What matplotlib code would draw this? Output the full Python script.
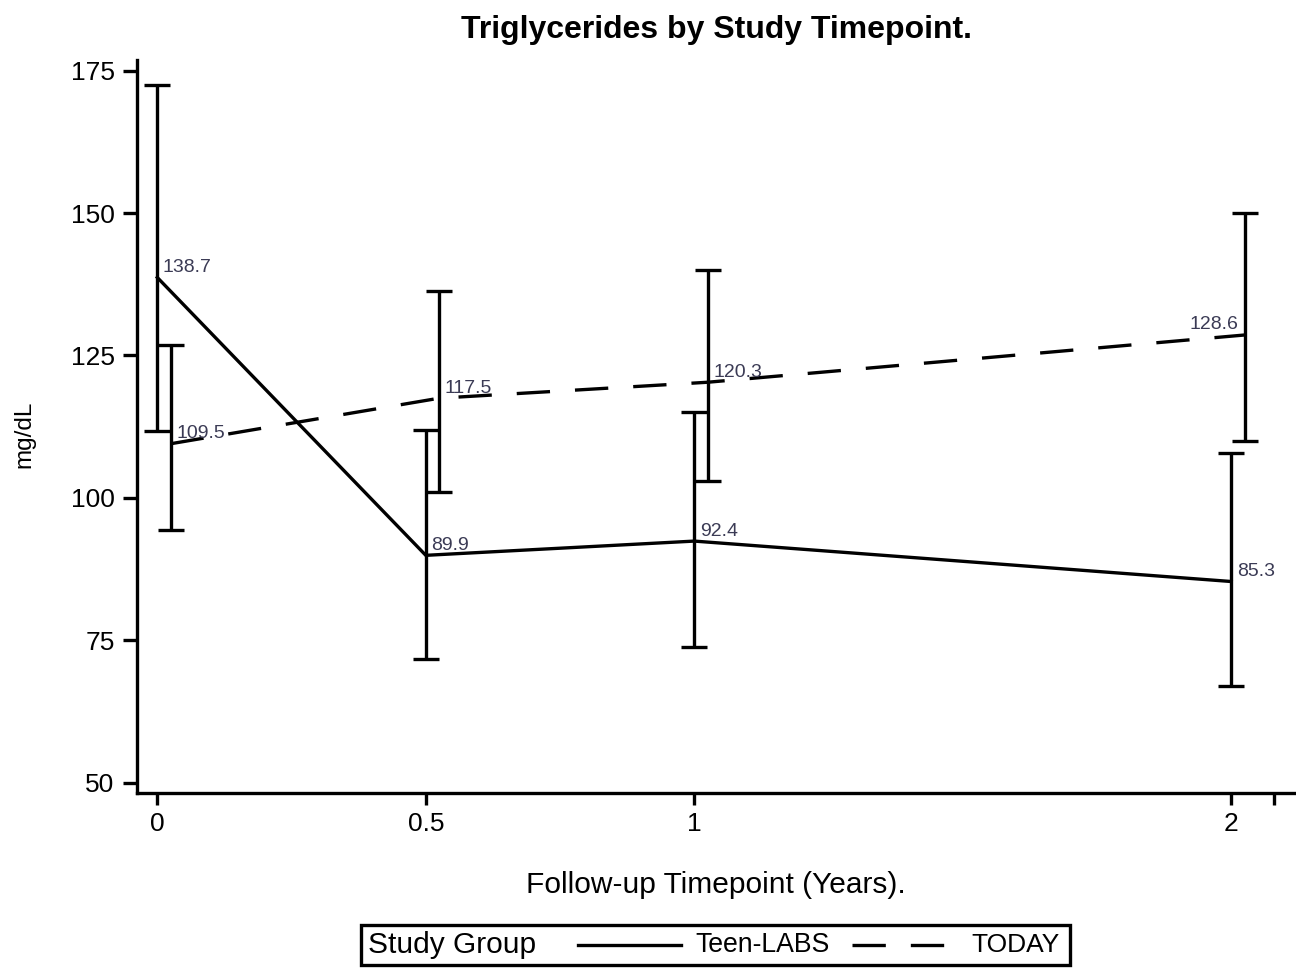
import numpy as np
import matplotlib.pyplot as plt
from matplotlib.lines import Line2D
from matplotlib.offsetbox import AnchoredOffsetbox, HPacker, TextArea, DrawingArea

plt.rcParams['font.family'] = ['Liberation Sans', 'DejaVu Sans']

# follow-up timepoints (years) and group summaries (mg/dL)
timepoints = [0, 0.5, 1, 2]
x_ticks = [0, 0.5, 1, 2, 2.08]
x_ticklabels = ['0', '0.5', '1', '2', '']
y_ticks = [50, 75, 100, 125, 150, 175]

teen_mean = [138.7, 89.9, 92.4, 85.3]
teen_lo = [111.7, 71.7, 73.8, 67.0]
teen_hi = [172.5, 111.9, 115.1, 107.9]

today_mean = [109.5, 117.5, 120.3, 128.6]
today_lo = [94.4, 101.0, 102.9, 110.0]
today_hi = [126.8, 136.3, 140.1, 150.1]

groups = ['Teen-LABS', 'TODAY']

lw = 2.4
dashed = (0, (10, 7.5))
label_color = '#3b3b55'

fig = plt.figure(figsize=(12.96, 9.69), dpi=100)
ax = fig.add_axes([0.1055, 0.1813, 0.8945, 0.7568])

series = [
    (teen_mean, teen_lo, teen_hi, 0.0, '-'),
    (today_mean, today_lo, today_hi, 0.025, dashed),
]
for i, (mean, lo, hi, shift, ls) in enumerate(series):
    x = np.array(timepoints) + shift
    mean = np.array(mean)
    yerr = [mean - np.array(lo), np.array(hi) - mean]
    ax.plot(x, mean, color='black', lw=lw, linestyle=ls)
    ax.errorbar(x, mean, yerr=yerr, fmt='none', ecolor='black',
                elinewidth=lw, capsize=9.6, capthick=lw)
    for j, (xi, yi) in enumerate(zip(x, mean)):
        # last TODAY label sits on the left of its point
        left = (i == 1 and j == len(x) - 1)
        ax.annotate(f'{yi:.1f}', (xi, yi), xytext=(-4.5 if left else 4, 4),
                    textcoords='offset points', ha='right' if left else 'left',
                    va='baseline', fontsize=14, color=label_color)

ax.set_xlim(-0.0383, 2.1205)
ax.set_ylim(48.1, 176.9)
ax.set_xticks(x_ticks, x_ticklabels)
ax.set_yticks(y_ticks)
for s in ['top', 'right']:
    ax.spines[s].set_visible(False)
for s in ['left', 'bottom']:
    ax.spines[s].set_linewidth(lw)
ax.tick_params(axis='both', direction='out', width=lw, labelsize=19, colors='black')
ax.tick_params(axis='y', length=10, pad=6)
ax.tick_params(axis='x', length=8.5, pad=5)

ax.set_title('Triglycerides by Study Timepoint.', fontsize=23, fontweight='bold', pad=16)
ax.set_xlabel('Follow-up Timepoint (Years).', fontsize=21.5, labelpad=25)
ax.set_ylabel('mg/dL', fontsize=17.5, labelpad=23)
ax.yaxis.set_label_coords(-0.087, 0.49)


# legend row: "Study Group" followed by line samples
def sample(ls, width, x0, length):
    da = DrawingArea(width, 14, 0, 0)
    da.add_artist(Line2D([x0, x0 + length], [7, 7], color='black', lw=lw, linestyle=ls))
    return da


row = HPacker(children=[
    DrawingArea(0.8, 1, 0, 0),
    TextArea('Study Group', textprops=dict(fontsize=21.5)),
    sample('-', 114.5, 30.2, 74.2),
    TextArea(groups[0], textprops=dict(fontsize=19.2)),
    sample(dashed, 102.2, 16.6, 67.7),
    TextArea(groups[1], textprops=dict(fontsize=19)),
    DrawingArea(3.5, 1, 0, 0),
], pad=4.3, sep=0, align='center')

leg = AnchoredOffsetbox(loc='lower center', child=row, pad=0, borderpad=0, frameon=True,
                        bbox_to_anchor=(0.5521, 0.0041), bbox_transform=fig.transFigure)
leg.patch.set_linewidth(2.4)
leg.patch.set_edgecolor('black')
fig.add_artist(leg)

fig.savefig('out.png', dpi=100)
